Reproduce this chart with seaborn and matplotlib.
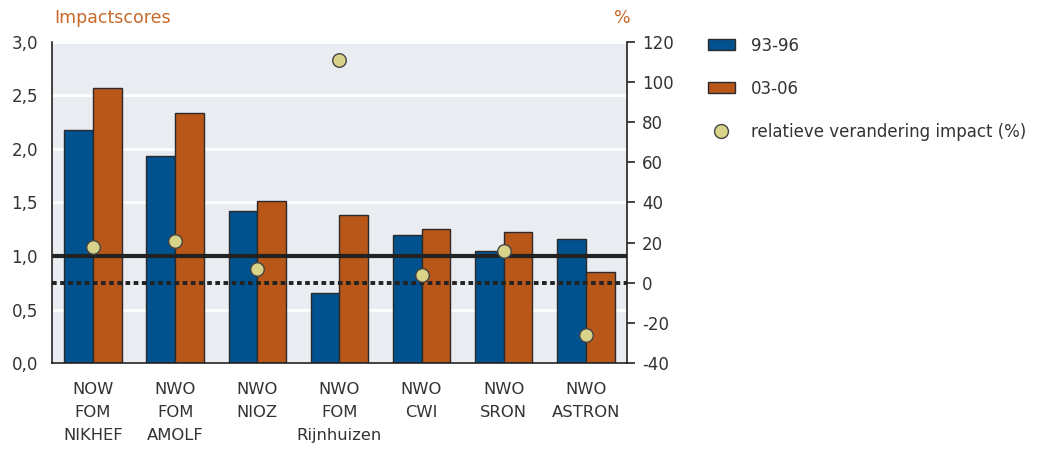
import numpy as np
import pandas as pd
import matplotlib
matplotlib.use('Agg')
import matplotlib.pyplot as plt
from matplotlib.patches import Patch
from matplotlib.lines import Line2D
import seaborn as sns

# Gegevens
instituten = ['NOW\nFOM\nNIKHEF', 'NWO\nFOM\nAMOLF', 'NWO\nNIOZ', 'NWO\nFOM\nRijnhuizen',
              'NWO\nCWI', 'NWO\nSRON', 'NWO\nASTRON']
periodes = ['93-96', '03-06']
impact_93_96 = [2.18, 1.93, 1.42, 0.65, 1.20, 1.05, 1.16]
impact_03_06 = [2.57, 2.34, 1.51, 1.38, 1.25, 1.22, 0.85]
verandering = [18, 21, 7, 111, 4, 16, -26]  # relatieve verandering impact (%)

links_ticks = [0.0, 0.5, 1.0, 1.5, 2.0, 2.5, 3.0]
links_labels = ['0,0', '0,5', '1,0', '1,5', '2,0', '2,5', '3,0']
rechts_ticks = [-40, -20, 0, 20, 40, 60, 80, 100, 120]

BLAUW = '#00528F'
ORANJE = '#B85718'
GEEL = '#D9D38A'
TEKST = '#333333'
TITEL = '#C8692A'

df = pd.DataFrame({
    'instituut': instituten * 2,
    'periode': [periodes[0]] * len(instituten) + [periodes[1]] * len(instituten),
    'impact': impact_93_96 + impact_03_06,
})

sns.set_style('white', {'axes.facecolor': '#E9ECF1'})
plt.rcParams['font.family'] = ['DejaVu Sans']

fig = plt.figure(figsize=(10.5, 4.51), dpi=100)
ax = fig.add_axes([0.0495, 0.195, 0.5475, 0.712])

sns.barplot(data=df, x='instituut', y='impact', hue='periode', palette=[BLAUW, ORANJE],
            saturation=1, width=0.7, edgecolor='#2a2a2a', linewidth=1.0, ax=ax,
            legend=False, zorder=2)

ax.set_ylim(0, 3.0)
ax.set_xlim(-0.5, len(instituten) - 0.5)
ax.set_yticks(links_ticks)
ax.set_yticklabels(links_labels)
ax.grid(axis='y', color='white', linewidth=2, zorder=0)
ax.set_axisbelow(True)
ax.set_xlabel('')
ax.set_ylabel('')
ax.tick_params(axis='y', length=0, pad=10, labelsize=12, labelcolor=TEKST)
ax.tick_params(axis='x', length=6, width=1.2, color='#222222', pad=8, labelsize=11.8, labelcolor=TEKST)
for lbl in ax.get_xticklabels():
    lbl.set_linespacing(1.65)
    lbl.set_verticalalignment('top')

# referentielijnen
ax.axhline(1.0, color='#222222', linewidth=3, zorder=3)
ax.axhline(0.75, color='#222222', linewidth=2.8, linestyle=(0, (1.2, 0.9)), zorder=3)

for kant in ['top', 'right']:
    ax.spines[kant].set_visible(False)
for kant in ['left', 'bottom']:
    ax.spines[kant].set_color('#222222')
    ax.spines[kant].set_linewidth(1.2)

# rechter as: procentuele verandering
ax2 = ax.twinx()
sns.scatterplot(x=np.arange(len(instituten)), y=verandering, ax=ax2, s=95,
                color=GEEL, edgecolor='#444444', linewidth=1.0, zorder=5, legend=False)
ax2.set_ylim(-40, 120)
ax2.set_yticks(rechts_ticks)
ax2.set_yticklabels([str(t) for t in rechts_ticks])
ax2.tick_params(axis='y', length=6, width=1.2, color='#222222', pad=5, labelsize=12, labelcolor=TEKST)
for kant in ['top', 'left', 'bottom']:
    ax2.spines[kant].set_visible(False)
ax2.spines['right'].set_color('#222222')
ax2.spines['right'].set_linewidth(1.2)
ax2.grid(False)

fig.text(0.052, 0.96, 'Impactscores', color=TITEL, fontsize=12.5, ha='left', va='center')
fig.text(0.585, 0.96, '%', color=TITEL, fontsize=12.5, ha='left', va='center')

handles = [
    Patch(facecolor=BLAUW, edgecolor='#2a2a2a', linewidth=1.0),
    Patch(facecolor=ORANJE, edgecolor='#2a2a2a', linewidth=1.0),
    Line2D([], [], marker='o', linestyle='none', markersize=10, markerfacecolor=GEEL,
           markeredgecolor='#444444'),
]
fig.legend(handles, ['93-96', '03-06', 'relatieve verandering impact (%)'],
           loc='upper left', bbox_to_anchor=(0.66, 0.952), frameon=False, fontsize=12,
           labelspacing=1.5, handlelength=1.6, handleheight=0.6, handletextpad=1.0,
           labelcolor=TEKST)

fig.savefig('out.png', dpi=100)
